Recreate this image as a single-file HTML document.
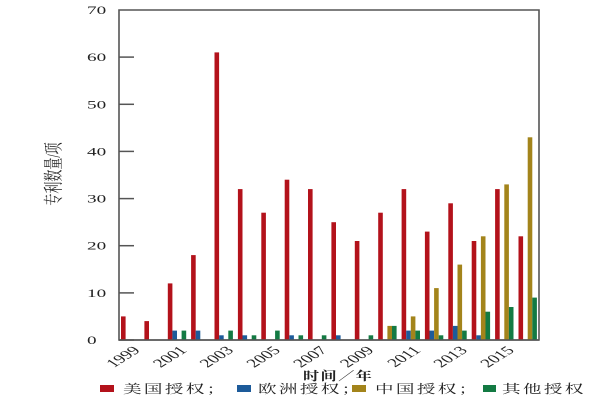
<!DOCTYPE html>
<html><head><meta charset="utf-8"><style>
html,body{margin:0;padding:0;background:#fff;}
svg{display:block;}
.t{font-family:"Liberation Serif","Noto Serif CJK SC",serif;fill:#222;}
.c{font-family:"Liberation Serif","Noto Serif CJK SC","Noto Sans CJK SC",serif;fill:#222;}
</style></head><body>
<svg width="600" height="400" viewBox="0 0 600 400" xmlns="http://www.w3.org/2000/svg">
<rect width="600" height="400" fill="#fff"/>
<!-- ticks -->
<g stroke="#555" stroke-width="1.5">
<line x1="119" y1="340" x2="134" y2="340"/>
<line x1="119" y1="292.9" x2="134" y2="292.9"/>
<line x1="119" y1="245.7" x2="134" y2="245.7"/>
<line x1="119" y1="198.6" x2="134" y2="198.6"/>
<line x1="119" y1="151.4" x2="134" y2="151.4"/>
<line x1="119" y1="104.3" x2="134" y2="104.3"/>
<line x1="119" y1="57.1" x2="134" y2="57.1"/>
</g>
<!-- frame -->
<path d="M119,10 L539,10 L539,340 L119,340 Z" fill="none" stroke="#555" stroke-width="1.6"/>
<!-- y tick labels -->
<g class="t" font-size="12">
<text transform="translate(87,344) scale(1.6,1)">0</text>
<text transform="translate(87,296.9) scale(1.6,1)">10</text>
<text transform="translate(87,249.7) scale(1.6,1)">20</text>
<text transform="translate(87,202.6) scale(1.6,1)">30</text>
<text transform="translate(87,155.4) scale(1.6,1)">40</text>
<text transform="translate(87,108.3) scale(1.6,1)">50</text>
<text transform="translate(87,61.1) scale(1.6,1)">60</text>
<text transform="translate(87,14) scale(1.6,1)">70</text>
</g>
<!-- x tick labels -->
<g class="t" font-size="12" text-anchor="end">
<text transform="translate(141,351) scale(1.6,1) rotate(-45)">1999</text>
<text transform="translate(187.8,351) scale(1.6,1) rotate(-45)">2001</text>
<text transform="translate(234.5,351) scale(1.6,1) rotate(-45)">2003</text>
<text transform="translate(281.3,351) scale(1.6,1) rotate(-45)">2005</text>
<text transform="translate(328,351) scale(1.6,1) rotate(-45)">2007</text>
<text transform="translate(374.8,351) scale(1.6,1) rotate(-45)">2009</text>
<text transform="translate(421.6,351) scale(1.6,1) rotate(-45)">2011</text>
<text transform="translate(468.3,351) scale(1.6,1) rotate(-45)">2013</text>
<text transform="translate(515.1,351) scale(1.6,1) rotate(-45)">2015</text>
</g>
<!-- y title -->
<text class="c" font-size="12" text-anchor="middle" transform="translate(60,174) scale(1.6,1) rotate(-90)">专利数量/项</text>
<!-- x title -->
<text class="c" font-size="12" font-weight="bold" letter-spacing="1" transform="translate(303,380) scale(1.35,1)">时间／年</text>
<!-- legend -->
<rect x="100" y="385" width="14" height="7" fill="#b3121b"/>
<rect x="237" y="385" width="14" height="7" fill="#1d5b9a"/>
<rect x="352" y="385" width="14" height="7" fill="#a3841b"/>
<rect x="483" y="385" width="13" height="7" fill="#137a43"/>
<g class="c" font-size="12" letter-spacing="1.5">
<text transform="translate(123,393) scale(1.55,1)">美国授权；</text>
<text transform="translate(258,393) scale(1.55,1)">欧洲授权；</text>
<text transform="translate(375,393) scale(1.55,1)">中国授权；</text>
<text transform="translate(502,393) scale(1.55,1)">其他授权</text>
</g>
<!-- bars -->
<g>
<rect x="121.0" y="316.4" width="4.6" height="23.6" fill="#b3121b"/>
<rect x="144.4" y="321.1" width="4.6" height="18.9" fill="#b3121b"/>
<rect x="167.8" y="283.4" width="4.6" height="56.6" fill="#b3121b"/>
<rect x="172.4" y="330.6" width="4.6" height="9.4" fill="#1d5b9a"/>
<rect x="181.6" y="330.6" width="4.6" height="9.4" fill="#137a43"/>
<rect x="191.1" y="255.1" width="4.6" height="84.9" fill="#b3121b"/>
<rect x="195.7" y="330.6" width="4.6" height="9.4" fill="#1d5b9a"/>
<rect x="214.5" y="52.4" width="4.6" height="287.6" fill="#b3121b"/>
<rect x="219.1" y="335.3" width="4.6" height="4.7" fill="#1d5b9a"/>
<rect x="228.3" y="330.6" width="4.6" height="9.4" fill="#137a43"/>
<rect x="237.9" y="189.1" width="4.6" height="150.9" fill="#b3121b"/>
<rect x="242.5" y="335.3" width="4.6" height="4.7" fill="#1d5b9a"/>
<rect x="251.7" y="335.3" width="4.6" height="4.7" fill="#137a43"/>
<rect x="261.3" y="212.7" width="4.6" height="127.3" fill="#b3121b"/>
<rect x="275.1" y="330.6" width="4.6" height="9.4" fill="#137a43"/>
<rect x="284.7" y="179.7" width="4.6" height="160.3" fill="#b3121b"/>
<rect x="289.3" y="335.3" width="4.6" height="4.7" fill="#1d5b9a"/>
<rect x="298.5" y="335.3" width="4.6" height="4.7" fill="#137a43"/>
<rect x="308.0" y="189.1" width="4.6" height="150.9" fill="#b3121b"/>
<rect x="321.8" y="335.3" width="4.6" height="4.7" fill="#137a43"/>
<rect x="331.4" y="222.2" width="4.6" height="117.8" fill="#b3121b"/>
<rect x="336.0" y="335.3" width="4.6" height="4.7" fill="#1d5b9a"/>
<rect x="354.8" y="241.0" width="4.6" height="99.0" fill="#b3121b"/>
<rect x="368.6" y="335.3" width="4.6" height="4.7" fill="#137a43"/>
<rect x="378.2" y="212.7" width="4.6" height="127.3" fill="#b3121b"/>
<rect x="387.4" y="325.9" width="4.6" height="14.1" fill="#a3841b"/>
<rect x="392.0" y="325.9" width="4.6" height="14.1" fill="#137a43"/>
<rect x="401.6" y="189.1" width="4.6" height="150.9" fill="#b3121b"/>
<rect x="406.2" y="330.6" width="4.6" height="9.4" fill="#1d5b9a"/>
<rect x="410.8" y="316.4" width="4.6" height="23.6" fill="#a3841b"/>
<rect x="415.4" y="330.6" width="4.6" height="9.4" fill="#137a43"/>
<rect x="424.9" y="231.6" width="4.6" height="108.4" fill="#b3121b"/>
<rect x="429.5" y="330.6" width="4.6" height="9.4" fill="#1d5b9a"/>
<rect x="434.1" y="288.1" width="4.6" height="51.9" fill="#a3841b"/>
<rect x="438.7" y="335.3" width="4.6" height="4.7" fill="#137a43"/>
<rect x="448.3" y="203.3" width="4.6" height="136.7" fill="#b3121b"/>
<rect x="452.9" y="325.9" width="4.6" height="14.1" fill="#1d5b9a"/>
<rect x="457.5" y="264.6" width="4.6" height="75.4" fill="#a3841b"/>
<rect x="462.1" y="330.6" width="4.6" height="9.4" fill="#137a43"/>
<rect x="471.7" y="241.0" width="4.6" height="99.0" fill="#b3121b"/>
<rect x="476.3" y="335.3" width="4.6" height="4.7" fill="#1d5b9a"/>
<rect x="480.9" y="236.3" width="4.6" height="103.7" fill="#a3841b"/>
<rect x="485.5" y="311.7" width="4.6" height="28.3" fill="#137a43"/>
<rect x="495.1" y="189.1" width="4.6" height="150.9" fill="#b3121b"/>
<rect x="504.3" y="184.4" width="4.6" height="155.6" fill="#a3841b"/>
<rect x="508.9" y="307.0" width="4.6" height="33.0" fill="#137a43"/>
<rect x="518.5" y="236.3" width="4.6" height="103.7" fill="#b3121b"/>
<rect x="527.7" y="137.3" width="4.6" height="202.7" fill="#a3841b"/>
<rect x="532.3" y="297.6" width="4.6" height="42.4" fill="#137a43"/>
</g>
<path d="M119,340 L539,340" stroke="#555" stroke-width="1.6"/>
</svg>
</body></html>
